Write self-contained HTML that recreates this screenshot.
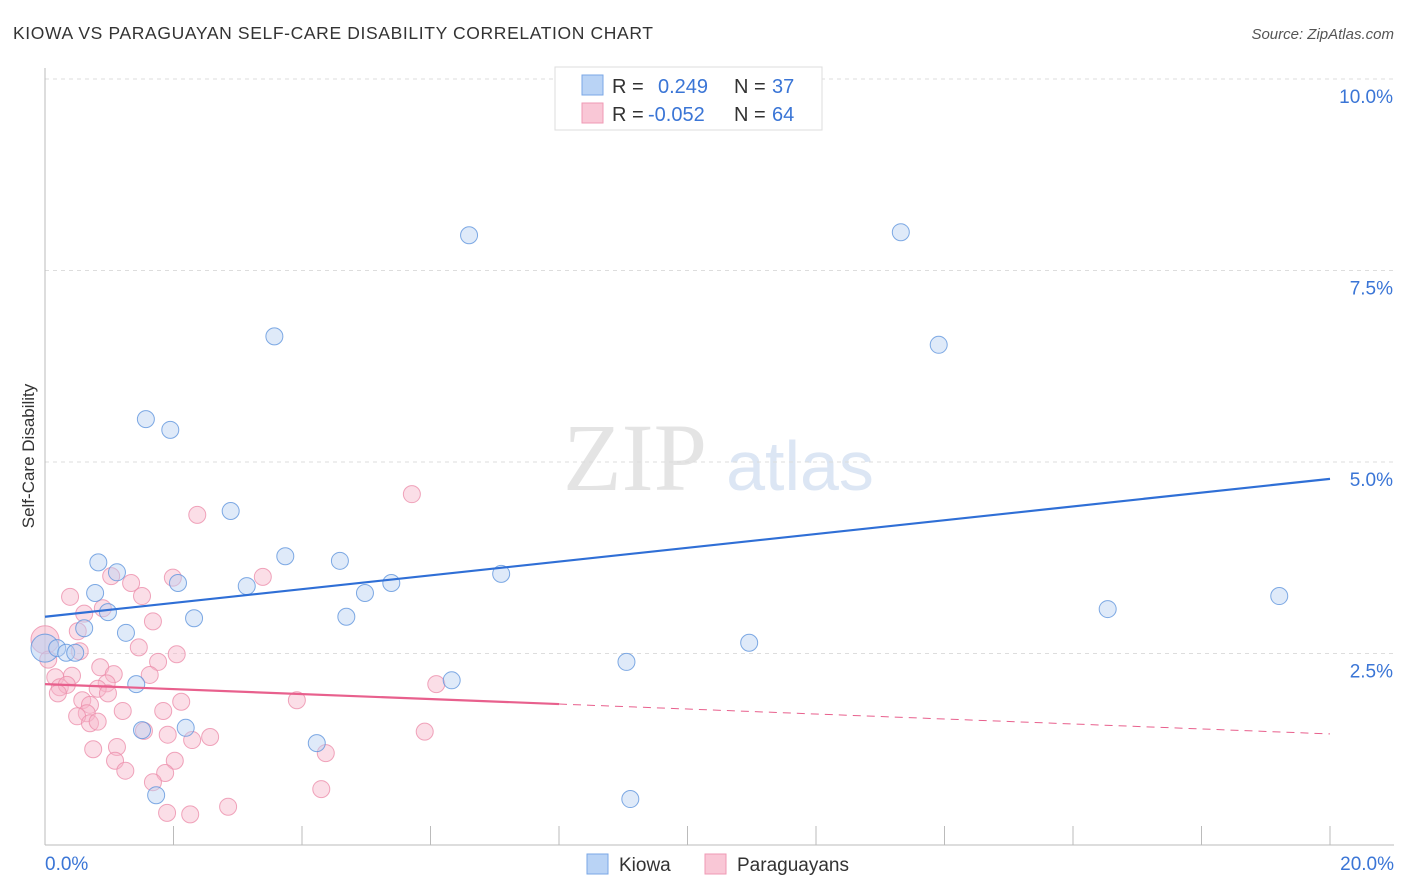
<!DOCTYPE html>
<html><head><meta charset="utf-8"><style>
body{margin:0;background:#fff;font-family:"Liberation Sans",sans-serif;}
#wrap{position:relative;width:1406px;height:892px;overflow:hidden;}
</style></head><body>
<div id="wrap">
<svg id="svg" width="1406" height="892" xmlns="http://www.w3.org/2000/svg">
<text x="13" y="39" font-size="17.5" fill="#333" textLength="640">KIOWA VS PARAGUAYAN SELF-CARE DISABILITY CORRELATION CHART</text>
<text x="1394" y="39" font-size="15" fill="#555" font-style="italic" text-anchor="end">Source: ZipAtlas.com</text>
<text x="34" y="456" font-size="17" fill="#333" text-anchor="middle" transform="rotate(-90 34 456)">Self-Care Disability</text>
<g>
<text x="635" y="490" font-size="96" fill="#e4e4e4" font-family="Liberation Serif,serif" text-anchor="middle">ZIP</text>
<text x="800" y="490" font-size="70" fill="#dce6f4" text-anchor="middle">atlas</text>
</g>
<g id="grid"></g>
<g id="axes"></g>
<g id="pts"></g>
<g id="trend"></g>
<g>
<rect x="555" y="67" width="267" height="63" fill="#fff" stroke="#ddd"/>
<rect x="582" y="75" width="21" height="20" fill="#b9d3f5" stroke="#7aa7e6"/>
<rect x="582" y="103" width="21" height="20" fill="#f9c7d6" stroke="#ef9ab4"/>
<text x="612" y="93" font-size="20" fill="#333">R =</text>
<text x="658" y="93" font-size="20" fill="#3a75d6">0.249</text>
<text x="734" y="93" font-size="20" fill="#333">N =</text>
<text x="772" y="93" font-size="20" fill="#3a75d6">37</text>
<text x="612" y="121" font-size="20" fill="#333">R =</text>
<text x="648" y="121" font-size="20" fill="#3a75d6">-0.052</text>
<text x="734" y="121" font-size="20" fill="#333">N =</text>
<text x="772" y="121" font-size="20" fill="#3a75d6">64</text>
</g>
<g>
<rect x="587" y="854" width="21" height="20" fill="#b9d3f5" stroke="#7aa7e6"/>
<text x="619" y="871" font-size="19" fill="#333">Kiowa</text>
<rect x="705" y="854" width="21" height="20" fill="#f9c7d6" stroke="#ef9ab4"/>
<text x="737" y="871" font-size="19" fill="#333">Paraguayans</text>
</g>
</svg>
</div>
<script>
const xTicks=[0,2,4,6,8,10,12,14,16,18,20];
const yTicks=[2.5,5.0,7.5,10.0];
const yTickLabels=["2.5%","5.0%","7.5%","10.0%"];
const xEndLabels=["0.0%","20.0%"];
const kiowaX=[0.00,0.19,0.33,0.47,0.61,0.78,0.83,0.98,1.12,1.26,1.42,1.51,1.57,1.73,1.95,2.07,2.19,2.32,2.89,3.14,3.57,3.74,4.23,4.59,4.69,4.98,5.39,6.33,6.60,7.10,9.05,9.11,10.96,13.32,13.91,16.54,19.21];
const kiowaY=[2.57,2.57,2.51,2.51,2.83,3.29,3.69,3.04,3.56,2.77,2.10,1.50,5.56,0.65,5.42,3.42,1.53,2.96,4.36,3.38,6.64,3.77,1.33,3.71,2.98,3.29,3.42,2.15,7.96,3.54,2.39,0.60,2.64,8.00,6.53,3.08,3.25];
const paraX=[0.39,1.03,1.34,1.51,1.99,3.39,0.61,0.90,1.68,0.51,1.46,2.05,0.54,0.86,1.76,1.07,1.63,0.42,0.16,0.23,0.34,0.20,0.96,0.82,0.98,0.58,0.70,0.65,0.50,0.70,0.82,1.21,1.84,2.12,3.92,1.54,1.91,2.29,2.57,0.75,1.12,1.09,1.25,2.02,1.87,1.68,1.90,2.26,2.85,4.37,4.30,5.71,2.37,5.91,6.09,0.00,0.05];
const paraY=[3.24,3.51,3.42,3.25,3.49,3.50,3.02,3.09,2.92,2.79,2.58,2.49,2.53,2.32,2.39,2.23,2.22,2.21,2.19,2.06,2.09,1.98,2.11,2.04,1.98,1.89,1.83,1.72,1.68,1.59,1.61,1.75,1.75,1.87,1.89,1.49,1.44,1.37,1.41,1.25,1.28,1.10,0.97,1.10,0.94,0.82,0.42,0.40,0.50,1.20,0.73,4.58,4.31,1.48,2.10,2.68,2.42];
const kiowaTrend=[2.98,4.78];
const paraTrend=[2.10,1.45];
const paraSolidEnd=8;

const SVGNS="http://www.w3.org/2000/svg";
const sx=v=>45+v*64.25, sy=v=>845-v*76.6;
function mk(tag,attrs,parent){const e=document.createElementNS(SVGNS,tag);for(const k in attrs)e.setAttribute(k,attrs[k]);parent.appendChild(e);return e;}
const gGrid=document.getElementById('grid'),gAxes=document.getElementById('axes'),gPts=document.getElementById('pts'),gTrend=document.getElementById('trend');
yTicks.forEach((t,i)=>{
 const l=mk('line',{x1:45,x2:1394,y1:sy(t),y2:sy(t),stroke:'#ddd','stroke-dasharray':'4,4'},gGrid);
 
 
 const tx=mk('text',{x:1393,y:sy(t)+24,'font-size':19,fill:'#3a75d6','text-anchor':'end'},gAxes);
 tx.textContent=yTickLabels[i];
 
 
});
const topGrid=mk('line',{x1:45,x2:1394,y1:79,y2:79,stroke:'#ddd','stroke-dasharray':'4,4'},gGrid);


const yAxisLine=mk('line',{x1:45,x2:45,y1:68,y2:845,stroke:'#bbb'},gAxes);


const xAxisLine=mk('line',{x1:45,x2:1394,y1:845,y2:845,stroke:'#bbb'},gAxes);


xTicks.forEach(t=>{
 const l=mk('line',{x1:sx(t),x2:sx(t),y1:826,y2:845,stroke:'#bbb'},gAxes);
 
 
});
[[0,'start',sx(0)],[1,'end',1394]].forEach(([i,a,x])=>{
 const t=mk('text',{x:x,y:870,'font-size':19,fill:'#3a75d6','text-anchor':a},gAxes);
 t.textContent=xEndLabels[i];
 
 
});
function dots(xs,ys,fill,stroke,name){
 xs.forEach((x,i)=>{
  const big=(x===0);
  const c=mk('circle',{cx:sx(x),cy:sy(ys[i]),r:big?14:8.5,fill:fill,'fill-opacity':big?0.55:0.45,stroke:stroke,'stroke-opacity':0.8,'stroke-width':1},gPts);
  
  
 });
}
dots(paraX,paraY,'#f7b6ca','#ec8eab','paraguayan-point');
dots(kiowaX,kiowaY,'#b7d0f2','#5f95dd','kiowa-point');
const kLine=mk('line',{x1:sx(0),y1:sy(kiowaTrend[0]),x2:sx(20),y2:sy(kiowaTrend[1]),stroke:'#2f6fd6','stroke-width':2.2},gTrend);


const pMid=paraTrend[0]+(paraTrend[1]-paraTrend[0])*paraSolidEnd/20;
const pLine=mk('line',{x1:sx(0),y1:sy(paraTrend[0]),x2:sx(paraSolidEnd),y2:sy(pMid),stroke:'#e8608d','stroke-width':2.2},gTrend);


const pDash=mk('line',{x1:sx(paraSolidEnd),y1:sy(pMid),x2:sx(20),y2:sy(paraTrend[1]),stroke:'#e8608d','stroke-width':1,'stroke-dasharray':'8,6'},gTrend);


</script>
</body></html>
